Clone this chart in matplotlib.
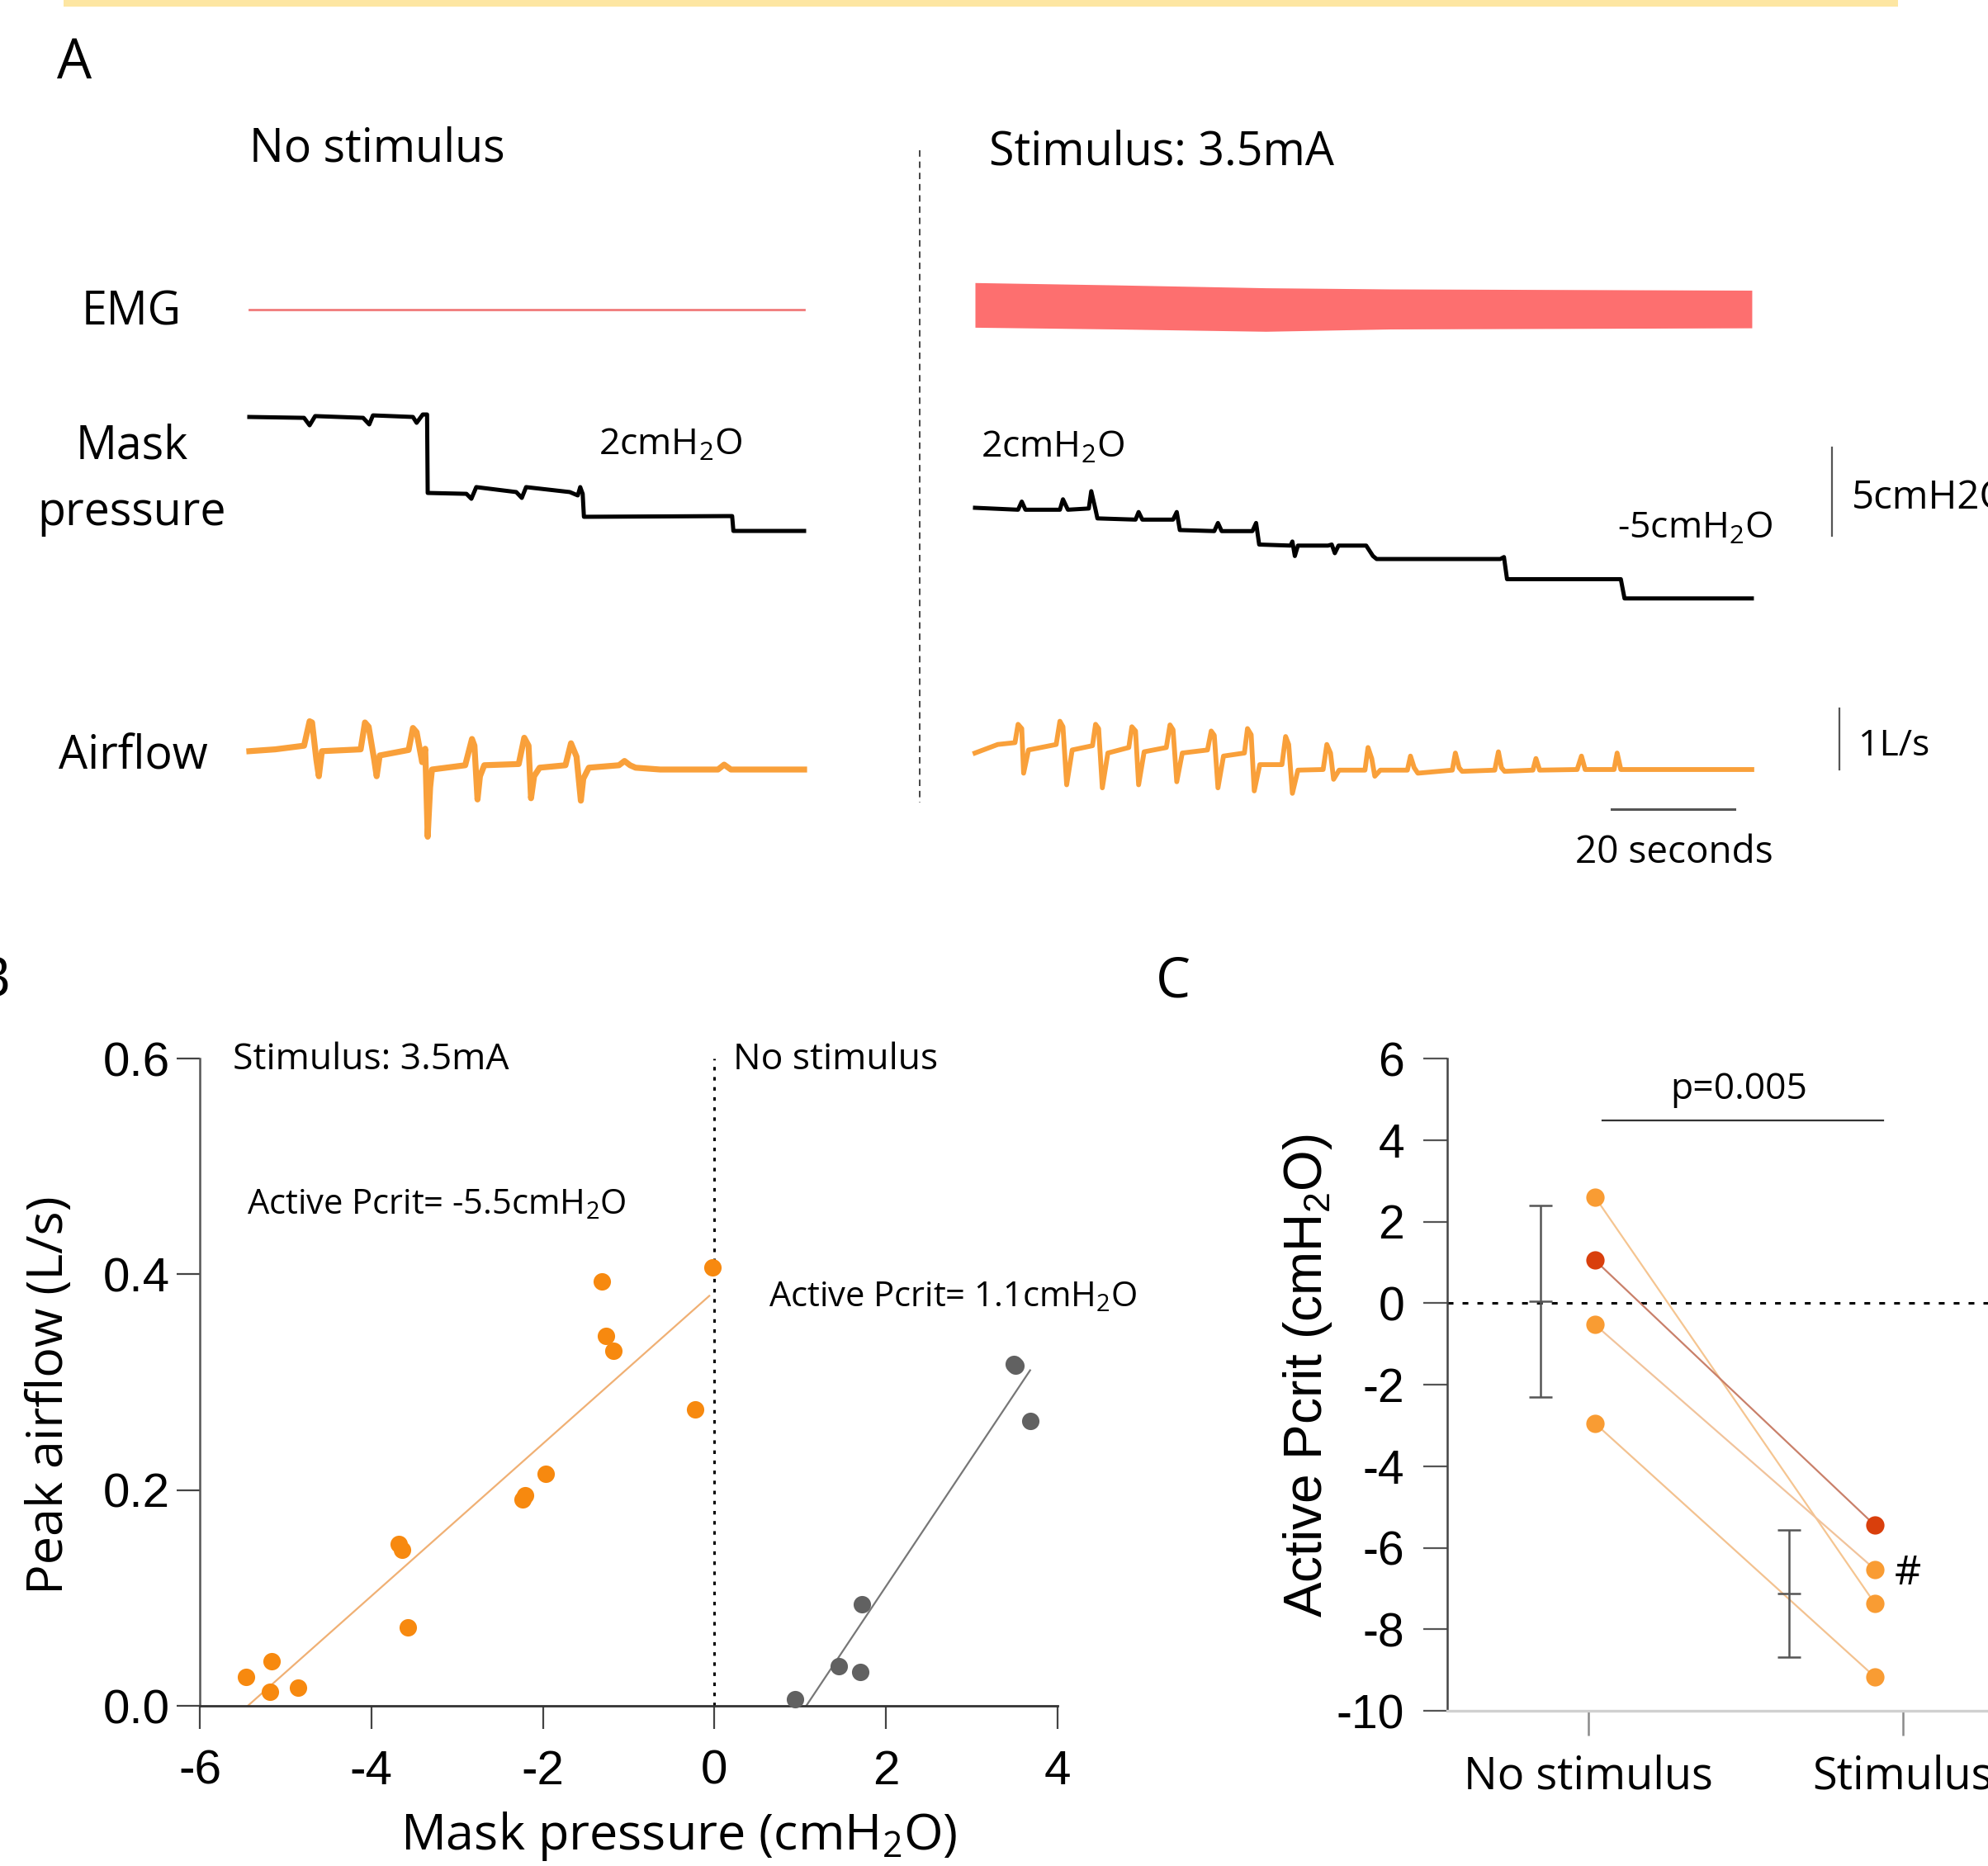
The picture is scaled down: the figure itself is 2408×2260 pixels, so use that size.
import matplotlib
matplotlib.use("Agg")
import matplotlib.pyplot as plt
from matplotlib.lines import Line2D
from matplotlib.patches import Rectangle

plt.rcParams["font.family"] = ["Open Sans", "DejaVu Sans"]
plt.rcParams["axes.unicode_minus"] = False

# ---------------- panel A: traces ----------------
# mask pressure (cmH2O) vs time (s)
p_left_t = [0, 8.9, 9.8, 10.7, 18.5, 19.5, 20.1, 26.6, 27.2, 28.2, 28.9, 29.0, 35.3, 36.1, 36.9,
            43.4, 44.3, 45.0, 52.1, 53.4, 53.8, 54.2, 54.4, 77.6, 78.5, 78.7, 90.2]
p_left = [7.14, 7.09, 6.67, 7.19, 7.09, 6.72, 7.23, 7.14, 6.81, 7.28, 7.28, 2.84, 2.79, 2.51, 3.17,
          2.89, 2.56, 3.17, 2.89, 2.70, 3.17, 2.79, 1.49, 1.53, 1.53, 0.69, 0.69]

p_right_t = [0, 7.0, 7.6, 8.2, 13.8, 14.3, 15.1, 18.5, 18.9, 19.6, 19.9, 26.1, 26.6, 27.2, 32.2, 32.8,
             33.3, 38.9, 39.5, 40.1, 45.1, 45.7, 46.2, 51.3, 51.6, 52.0, 52.5, 57.4, 58.0, 58.5, 59.1,
             63.6, 64.7, 65.3, 85.4, 86.0, 86.5, 105.0, 105.6, 126.3]
p_right = [2.0, 1.89, 2.35, 1.89, 1.89, 2.48, 1.89, 1.96, 2.94, 1.89, 1.40, 1.33, 1.76, 1.33, 1.33, 1.76,
           0.74, 0.68, 1.14, 0.68, 0.68, 1.14, -0.08, -0.14, 0.09, -0.73, -0.14, -0.14, -0.08, -0.57, -0.14,
           -0.14, -0.73, -0.90, -0.90, -0.79, -2.04, -2.04, -3.13, -3.13]

# airflow (L/s) vs time (s)
f_left_t = [0, 4.2, 8.9, 9.8, 10.2, 10.9, 11.3, 11.8, 18.1, 18.8, 19.4, 20.3, 20.7, 21.2, 25.9, 26.6,
            27.2, 28.1, 28.6, 29.0, 29.4, 29.7, 35.1, 36.2, 36.6, 37.1, 37.5, 38.2, 43.8, 44.7, 45.4,
            45.8, 46.3, 47.2, 51.4, 52.3, 53.2, 53.9, 54.3, 55.2, 60.1, 61.0, 61.9, 62.8, 66.8, 76.2,
            77.2, 78.3, 90.2]
f_left = [0.30, 0.33, 0.39, 0.79, 0.77, 0.16, -0.11, 0.30, 0.33, 0.77, 0.70, 0.16, -0.11, 0.23, 0.32, 0.68,
          0.61, 0.12, 0.34, -1.10, -0.29, 0.0, 0.07, 0.50, 0.39, -0.49, -0.11, 0.07, 0.09, 0.52, 0.39,
          -0.47, -0.11, 0.03, 0.07, 0.43, 0.21, -0.51, -0.15, 0.03, 0.07, 0.14, 0.07, 0.03, 0.0, 0.0,
          0.08, 0.0, 0.0]

f_right_t = [0, 3.7, 6.5, 7.0, 7.6, 7.9, 8.7, 13.2, 13.8, 14.3, 14.9, 15.8, 19.1, 19.6, 20.1, 20.7, 21.6,
             25.0, 25.5, 26.1, 26.6, 27.5, 31.1, 31.7, 32.2, 32.8, 33.7, 37.8, 38.4, 38.9, 39.5, 40.4,
             43.8, 44.3, 44.9, 45.4, 46.3, 49.9, 50.5, 51.0, 51.6, 52.5, 56.6, 57.2, 57.8, 58.3, 59.2,
             63.4, 63.9, 64.5, 65.0, 65.9, 70.3, 70.8, 71.4, 72.0, 77.6, 78.1, 78.7, 79.2, 84.5, 85.1,
             85.6, 86.1, 90.7, 91.2, 91.8, 97.9, 98.6, 99.2, 103.9, 104.4, 105.0, 126.3]
f_right = [0.27, 0.41, 0.44, 0.74, 0.67, -0.06, 0.32, 0.41, 0.79, 0.70, -0.25, 0.32, 0.39, 0.74, 0.67, -0.30,
           0.27, 0.36, 0.70, 0.63, -0.25, 0.29, 0.36, 0.73, 0.65, -0.20, 0.27, 0.32, 0.63, 0.56, -0.30,
           0.22, 0.27, 0.67, 0.57, -0.35, 0.08, 0.08, 0.54, 0.41, -0.39, -0.01, 0.0, 0.41, 0.27, -0.16,
           -0.01, -0.01, 0.36, 0.18, -0.11, -0.01, -0.01, 0.22, 0.03, -0.06, -0.01, 0.27, 0.03, -0.03,
           -0.01, 0.29, 0.03, -0.03, -0.01, 0.18, -0.01, 0.0, 0.22, 0.0, 0.0, 0.27, 0.0, 0.0]

# EMG (arbitrary units)
emg_left_t = [0, 90.2]
emg_left = [-0.4, -0.4]
emg_right_t = [0, 22.7, 47.3, 67.5, 126.3]
emg_right_top = [2.87, 2.59, 2.24, 2.10, 1.95]
emg_right_bot = [-2.54, -2.75, -3.03, -2.75, -2.61]

# ---------------- panel B: peak airflow vs mask pressure ----------------
stim_x = [-5.46, -5.16, -5.18, -4.85, -3.68, -3.64, -3.57, -2.24, -2.21, -1.97, -1.31, -1.26, -1.18, -0.23, -0.02]
stim_y = [0.027, 0.041, 0.013, 0.017, 0.150, 0.145, 0.073, 0.191, 0.195, 0.215, 0.393, 0.343, 0.329, 0.275, 0.406]
nostim_x = [0.94, 1.45, 1.70, 1.72, 3.49, 3.51, 3.68]
nostim_y = [0.006, 0.037, 0.031, 0.094, 0.317, 0.315, 0.264]
stim_fit_x = [-5.44, -0.06]
stim_fit_y = [0.0, 0.38]
nostim_fit_x = [1.07, 3.68]
nostim_fit_y = [0.0, 0.311]

# ---------------- panel C: active Pcrit ----------------
groups = ["No stimulus", "Stimulus"]
pcrit_nostim = [2.60, 1.05, -0.53, -2.95]
pcrit_stim = [-7.37, -5.45, -6.53, -9.17]
dot_colors = ["#f99c33", "#d93f0c", "#f99c33", "#f99c33"]
pair_colors = ["#f5c591", "#c9806a", "#f1c39b", "#f3c290"]
mean_nostim, err_nostim = 0.05, 2.35
mean_stim, err_stim = -7.13, 1.56

W, H = 2408, 2260
fig = plt.figure(figsize=(W / 200, H / 200), dpi=200)

PX_S = 7.45  # px per second in the traces


def ftext(x, y, s, size, ha="left", va="baseline", **kw):
    return fig.text(x / W, 1 - y / H, s, fontsize=size, ha=ha, va=va, **kw)


def trace_ax(x0, x1, y0, y1, t0_px, zero_px, px_unit):
    ax = fig.add_axes([x0 / W, 1 - y1 / H, (x1 - x0) / W, (y1 - y0) / H])
    ax.set_xlim((x0 - t0_px) / PX_S, (x1 - t0_px) / PX_S)
    ax.set_ylim((zero_px - y1) / px_unit, (zero_px - y0) / px_unit)
    ax.axis("off")
    return ax


# yellow strip and separator
fig.add_artist(Rectangle((77 / W, 1 - 8 / H), (2299 - 77) / W, 8 / H,
                         transform=fig.transFigure, color="#fde6a2", lw=0))
fig.add_artist(Line2D([1114 / W, 1114 / W], [1 - 182 / H, 1 - 972 / H], color="#444444",
                      lw=0.7, dashes=(4, 3)))

emg_l = trace_ax(290, 990, 320, 420, 302, 371, 10.0)
emg_r = trace_ax(1170, 2310, 320, 420, 1181, 371, 10.0)
pr_l = trace_ax(290, 990, 470, 760, 302, 657.8, 21.4)
pr_r = trace_ax(1170, 2310, 470, 760, 1181, 657.8, 21.4)
fl_l = trace_ax(290, 990, 840, 1040, 302, 932, 74.0)
fl_r = trace_ax(1170, 2310, 840, 1040, 1181, 932, 74.0)

emg_l.plot(emg_left_t, emg_left, color="#f07a7a", lw=1.0)
emg_r.fill_between(emg_right_t, emg_right_bot, emg_right_top, color="#fd6f6f", lw=0)
pr_l.plot(p_left_t, p_left, color="black", lw=1.8)
pr_r.plot(p_right_t, p_right, color="black", lw=1.8)
fl_l.plot(f_left_t, f_left, color="#f9a03a", lw=2.6)
fl_r.plot(f_right_t, f_right, color="#f9a03a", lw=2.1)

# scale bars
pr_r.plot([139.3, 139.3], [0.4, 5.4], color="#555555", lw=0.8)
fl_r.plot([140.5, 140.5], [0, 1], color="#555555", lw=0.8)
fl_r.plot([103.5, 123.5], [-0.65, -0.65], color="#555555", lw=1.1)

ftext(69, 95, "A", 24)
ftext(302, 196, "No stimulus", 20)
ftext(1198, 200, "Stimulus: 3.5mA", 20)
ftext(99, 393, "EMG", 20)
ftext(160, 556, "Mask", 20, ha="center")
ftext(160, 636, "pressure", 20, ha="center")
ftext(71, 931, "Airflow", 20)
ftext(725, 551, "2cmH$\\mathregular{_2}$O", 16)
ftext(1188, 554, "2cmH$\\mathregular{_2}$O", 16)
ftext(1959, 652, "-5cmH$\\mathregular{_2}$O", 16)
ftext(2243, 616, "5cmH2O", 17)
ftext(2251, 915, "1L/s", 16)
ftext(2028, 1045, "20 seconds", 16.5, ha="center")

# ---------------- panel B ----------------
axB = fig.add_axes([242 / W, 1 - 2066 / H, (1281 - 242) / W, (2066 - 1282) / H])
axB.set_xlim(-6, 4)
axB.set_ylim(0, 0.6)
axB.plot(stim_fit_x, stim_fit_y, color="#f0b074", lw=0.8, zorder=2)
axB.plot(nostim_fit_x, nostim_fit_y, color="#777777", lw=0.8, zorder=2)
axB.plot(stim_x, stim_y, "o", ms=7.6, color="#f7890f", mec="none", clip_on=False, zorder=3)
axB.plot(nostim_x, nostim_y, "o", ms=7.6, color="#616161", mec="none", clip_on=False, zorder=3)
axB.axvline(0, color="black", lw=1.1, dashes=(1.4, 2.6))
axB.set_xticks([-6, -4, -2, 0, 2, 4])
axB.set_yticks([0.0, 0.2, 0.4, 0.6])
axB.set_yticklabels(["0.0", "0.2", "0.4", "0.6"])
axB.tick_params(axis="both", direction="out", length=10, width=0.8, color="#444444", labelsize=21)
axB.tick_params(axis="x", pad=9)
axB.tick_params(axis="y", pad=3)
for lab in axB.get_xticklabels() + axB.get_yticklabels():
    lab.set_fontfamily("Liberation Sans")
for s in ["top", "right"]:
    axB.spines[s].set_visible(False)
axB.spines["left"].set_color("#555555")
axB.spines["left"].set_linewidth(0.9)
axB.spines["bottom"].set_color("#333333")
axB.spines["bottom"].set_linewidth(1.0)

ftext(12, 1207, "B", 24, ha="right")
ftext(282, 1295, "Stimulus: 3.5mA", 16)
ftext(888, 1295, "No stimulus", 16)
ftext(299, 1470, "Active Pcrit= -5.5cmH$\\mathregular{_2}$O", 15)
ftext(931, 1582, "Active Pcrit= 1.1cmH$\\mathregular{_2}$O", 15)
ftext(822, 2240, "Mask pressure (cmH$\\mathregular{_2}$O)", 22, ha="center")
ftext(60, 1690, "Peak airflow (L/s)", 22, ha="center", va="center", rotation=90)

# ---------------- panel C ----------------
axC = fig.add_axes([1753 / W, 1 - 2072 / H, (2514 - 1753) / W, (2072 - 1282) / H])
axC.set_xlim(-0.449, 1.549)
axC.set_ylim(-10, 6)
axC.axhline(0, color="black", lw=1.1, dashes=(2.3, 3.6), zorder=1)
x_no, x_st = 0.021, 0.911
for a, b, lc, dc in zip(pcrit_nostim, pcrit_stim, pair_colors, dot_colors):
    axC.plot([x_no, x_st], [a, b], color=lc, lw=0.8, zorder=2)
    axC.plot([x_no], [a], "o", ms=8, color=dc, mec="none", zorder=3)
    axC.plot([x_st], [b], "o", ms=8, color=dc, mec="none", zorder=3)
axC.errorbar([-0.152], [mean_nostim], yerr=[err_nostim], fmt="_", ms=10, mew=0.9,
             capsize=5, elinewidth=0.9, capthick=0.9, color="#555555", zorder=2)
axC.errorbar([0.638], [mean_stim], yerr=[err_stim], fmt="_", ms=10, mew=0.9,
             capsize=5, elinewidth=0.9, capthick=0.9, color="#555555", zorder=2)
axC.plot([0.045, 0.937], [4.48, 4.48], color="#333333", lw=0.8)
axC.text(0.478, 5.0, "p=0.005", fontsize=16, ha="center", va="baseline")
axC.text(0.974, -6.65, "#", fontsize=18, ha="left", va="center")

axC.set_yticks(range(-10, 7, 2))
axC.set_xticks([0, 1])
axC.set_xticklabels(groups)
axC.tick_params(axis="y", direction="out", length=10.4, width=0.8, color="#555555",
                labelsize=20.5, pad=8.3)
axC.tick_params(axis="x", direction="out", length=10.8, width=0.9, color="#8a8a8a",
                labelsize=19.5, pad=8)
for lab in axC.get_yticklabels():
    lab.set_fontfamily("Liberation Sans")
for s in ["top", "right"]:
    axC.spines[s].set_visible(False)
axC.spines["left"].set_color("#444444")
axC.spines["left"].set_linewidth(0.9)
axC.spines["bottom"].set_color("#d0d0d0")
axC.spines["bottom"].set_linewidth(1.2)

ftext(1400, 1207, "C", 24)
ftext(1584, 1666, "Active Pcrit (cmH$\\mathregular{_2}$O)", 23, ha="center", va="center",
      rotation=90, family="Liberation Sans")

fig.savefig("out.png", dpi=200)
